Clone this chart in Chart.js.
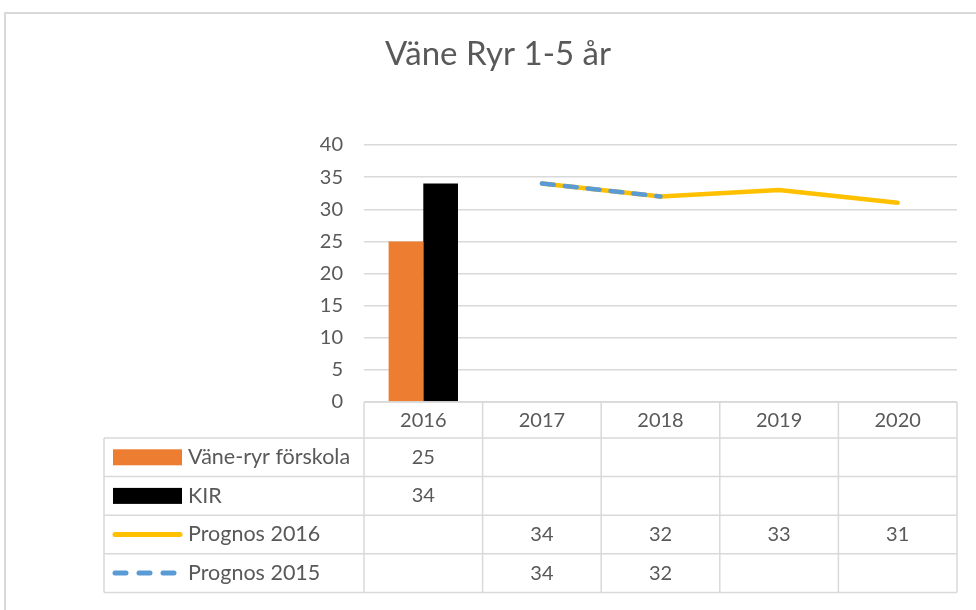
<!DOCTYPE html>
<html>
<head>
<meta charset="utf-8">
<script src="https://cdn.jsdelivr.net/npm/chart.js@4"></script>
<style>
  html, body { margin: 0; padding: 0; background: #fff; overflow: hidden; }
  #frame { position: absolute; left: 4px; top: 12px; width: 1000px; height: 700px; border: 2px solid #d9d9d9; }
  #chart { position: absolute; left: 0; top: 0; }
</style>
</head>
<body>
<div id="frame"></div>
<canvas id="chart" width="996" height="620"></canvas>
<script>
// data
const years = ['2016', '2017', '2018', '2019', '2020'];
const vaneRyr = [25, null, null, null, null];
const kir = [34, null, null, null, null];
const prognos2016 = [null, 34, 32, 33, 31];
const prognos2015 = [null, 34, 32, null, null];
const yTicks = [0, 5, 10, 15, 20, 25, 30, 35, 40];

const TEXT = '#595959';
const LINES = '#d9d9d9';
const FONT = 'Lato, "Open Sans", sans-serif';

// draws the data table (with legend keys) under the plot
const tablePlugin = {
    id: 'dataTable',
    afterDraw(chart) {
        const ctx = chart.ctx;
        const area = chart.chartArea;
        const x = chart.scales.x;
        const step = x.getPixelForValue(1) - x.getPixelForValue(0);
        const left = 104;
        const top = area.bottom;
        const headH = 36;
        const rowH = 38.6;
        const nRows = chart.data.datasets.length;
        const bottom = top + headH + nRows * rowH;

        ctx.save();
        ctx.strokeStyle = LINES;
        ctx.lineWidth = 1.5;
        ctx.beginPath();
        // header top line
        ctx.moveTo(area.left, top);
        ctx.lineTo(area.right, top);
        // row lines
        for (let r = 0; r <= nRows; r++) {
            const y = top + headH + r * rowH;
            ctx.moveTo(left, y);
            ctx.lineTo(area.right, y);
        }
        // column lines
        for (let i = 0; i <= years.length; i++) {
            const xx = x.getPixelForValue(0) - step / 2 + i * step;
            ctx.moveTo(xx, top);
            ctx.lineTo(xx, bottom);
        }
        ctx.moveTo(left, top + headH);
        ctx.lineTo(left, bottom);
        ctx.stroke();

        ctx.fillStyle = TEXT;
        ctx.font = '20px ' + FONT;
        ctx.textBaseline = 'middle';
        ctx.textAlign = 'center';
        years.forEach((yr, i) => {
            ctx.fillText(yr, x.getPixelForValue(i), top + headH / 2 + 1);
        });

        chart.data.datasets.forEach((ds, r) => {
            const cy = top + headH + r * rowH + rowH / 2;
            // legend key
            if (ds.type === 'bar') {
                ctx.fillStyle = ds.backgroundColor;
                ctx.fillRect(113, cy - 8, 69, 16);
            } else {
                ctx.strokeStyle = ds.borderColor;
                ctx.lineWidth = 5;
                ctx.lineCap = 'round';
                ctx.setLineDash(ds.borderDash ? [11, 13] : []);
                ctx.beginPath();
                ctx.moveTo(115, cy);
                ctx.lineTo(ds.borderDash ? 176 : 180, cy);
                ctx.stroke();
                ctx.setLineDash([]);
            }
            ctx.fillStyle = TEXT;
            ctx.textAlign = 'left';
            ctx.font = '21.5px ' + FONT;
            ctx.fillText(ds.label, 188, cy);
            ctx.font = '20px ' + FONT;
            ctx.textAlign = 'center';
            ds.data.forEach((v, i) => {
                if (v !== null) ctx.fillText(String(v), x.getPixelForValue(i), cy);
            });
        });
        ctx.restore();
    }
};

new Chart(document.getElementById('chart'), {
    data: {
        labels: years,
        datasets: [
            {
                type: 'bar', label: 'Väne-ryr förskola', data: vaneRyr,
                backgroundColor: '#ED7D31', order: 2
            },
            {
                type: 'bar', label: 'KIR', data: kir,
                backgroundColor: '#000000', order: 2
            },
            {
                type: 'line', label: 'Prognos 2016', data: prognos2016,
                borderColor: '#FFC000', backgroundColor: '#FFC000',
                borderWidth: 4.5, pointRadius: 0, tension: 0,
                borderCapStyle: 'round', borderJoinStyle: 'round', order: 1
            },
            {
                type: 'line', label: 'Prognos 2015', data: prognos2015,
                borderColor: '#5B9BD5', backgroundColor: '#5B9BD5',
                borderWidth: 4.5, pointRadius: 0, tension: 0, borderDash: [12, 11],
                borderCapStyle: 'round', borderJoinStyle: 'round', order: 0
            }
        ]
    },
    options: {
        responsive: false,
        animation: false,
        layout: { padding: { left: 0, right: 0, top: 0, bottom: 218 } },
        datasets: {
            bar: { barPercentage: 1, categoryPercentage: 0.585 }
        },
        plugins: {
            legend: { display: false },
            tooltip: { enabled: false },
            title: {
                display: true,
                text: 'Väne Ryr 1-5 år',
                color: TEXT,
                font: { family: FONT, size: 33, weight: 'normal', lineHeight: 1.2 },
                padding: { top: 35, bottom: 70.4 }
            }
        },
        scales: {
            x: {
                display: false,
                offset: true
            },
            y: {
                position: 'left',
                min: 0,
                max: 40,
                afterBuildTicks: (scale) => { scale.ticks = yTicks.map(v => ({ value: v })); },
                afterFit: (scale) => { scale.width = 364; },
                border: { display: false },
                grid: { color: LINES, lineWidth: 1.5, drawTicks: false },
                ticks: { color: TEXT, padding: 21, font: { family: FONT, size: 20 } }
            },
            yRight: {
                position: 'right',
                afterFit: (scale) => { scale.width = 39; },
                border: { display: false },
                grid: { display: false, drawTicks: false },
                ticks: { display: false }
            }
        }
    },
    plugins: [tablePlugin]
});
</script>
</body>
</html>
